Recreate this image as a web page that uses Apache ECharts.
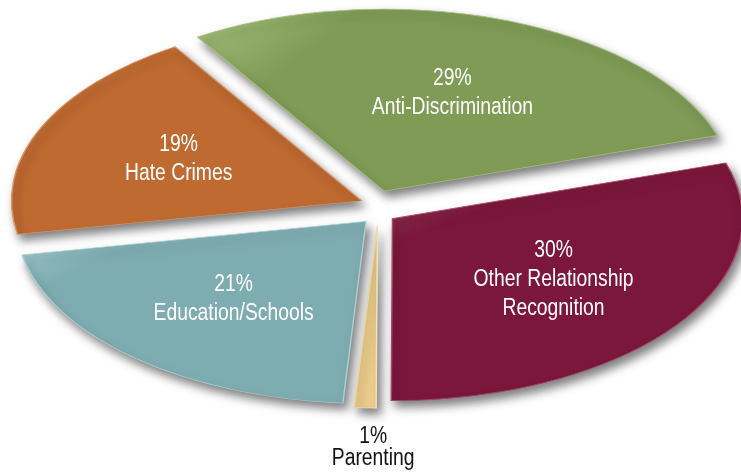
<!DOCTYPE html>
<html>
<head>
<meta charset="utf-8">
<script src="https://cdn.jsdelivr.net/npm/echarts@6/dist/echarts.min.js"></script>
<style>
  html, body { margin: 0; padding: 0; background: #ffffff; }
  #chart { width: 741px; height: 472px; }
</style>
</head>
<body>
<div id="chart"></div>
<script>
// Issue areas and their share of the total (percent), clockwise from the right
const categories = ['Other Relationship\nRecognition', 'Parenting', 'Education/Schools', 'Hate Crimes', 'Anti-Discrimination'];
const shares = [30, 1, 21, 19, 29];
const sliceColors = ['#7c173c', '#efcf8d', '#7eadb1', '#bf6a31', '#7f9b55'];
const rimColors = ['#a04a68', '#f7e2b4', '#a8cfd2', '#d99462', '#a6c07f'];

// Tilted-pie layout
const CX = 378, CY = 208;      // pie centre
const RX = 350, RY = 182;      // horizontal / vertical radius of the tilted disc
const EXPLODE = 18;            // how far each slice is pulled out
const START_DEG = -17.8;       // screen angle where the first slice begins
const FONT = '"Liberation Sans", Arial, sans-serif';
const NARROW = 0.84;           // horizontal squeeze for a condensed look

const total = shares.reduce((a, b) => a + b, 0);
const startAngles = [];
{
  let acc = 0;
  shares.forEach(v => { startAngles.push(acc); acc += v; });
}

function renderSlice(params, api) {
  const i = params.dataIndex;
  const value = api.value(0);
  const toRad = d => d * Math.PI / 180;
  const a0 = toRad(START_DEG + startAngles[i] / total * 360);
  const a1 = toRad(START_DEG + (startAngles[i] + value) / total * 360);
  const mid = (a0 + a1) / 2;
  const gx = CX + EXPLODE * Math.cos(mid);
  const gy = CY + EXPLODE * Math.sin(mid);
  const pct = Math.round(value / total * 100) + '%';
  const small = value / total < 0.05;

  let lx, ly;
  if (small) {
    // thin slices get their label underneath the disc
    lx = RX * Math.cos(mid) + 8;
    ly = RY * Math.sin(mid) + 40;
  } else {
    lx = 0.57 * RX * Math.cos(mid);
    ly = 0.57 * RY * Math.sin(mid);
  }

  return {
    type: 'group',
    x: gx,
    y: gy,
    children: [
      {
        type: 'sector',
        scaleY: RY / RX,
        shape: { cx: 0, cy: 0, r0: 0, r: RX, startAngle: a0, endAngle: a1, clockwise: true },
        style: {
          fill: {
            type: 'linear', x: 0, y: 0, x2: 1, y2: 1,
            colorStops: [
              { offset: 0, color: rimColors[i] },
              { offset: 0.22, color: sliceColors[i] },
              { offset: 1, color: sliceColors[i] }
            ]
          },
          stroke: rimColors[i],
          lineWidth: 1.5,
          strokeNoScale: true,
          shadowBlur: 10,
          shadowColor: 'rgba(0,0,0,0.5)',
          shadowOffsetX: 4,
          shadowOffsetY: 6
        }
      },
      {
        type: 'text',
        x: lx,
        y: ly,
        scaleX: NARROW,
        style: {
          text: pct + '\n' + api.value(1),
          fill: small ? '#111111' : '#ffffff',
          font: '23px ' + FONT,
          lineHeight: small ? 22 : 29,
          align: 'center',
          verticalAlign: 'middle'
        }
      }
    ]
  };
}

const chart = echarts.init(document.getElementById('chart'), null, { renderer: 'canvas' });
chart.setOption({
  animation: false,
  backgroundColor: '#ffffff',
  series: [{
    type: 'custom',
    coordinateSystem: 'none',
    silent: true,
    renderItem: renderSlice,
    data: shares.map((v, i) => [v, categories[i]])
  }]
});
</script>
</body>
</html>
